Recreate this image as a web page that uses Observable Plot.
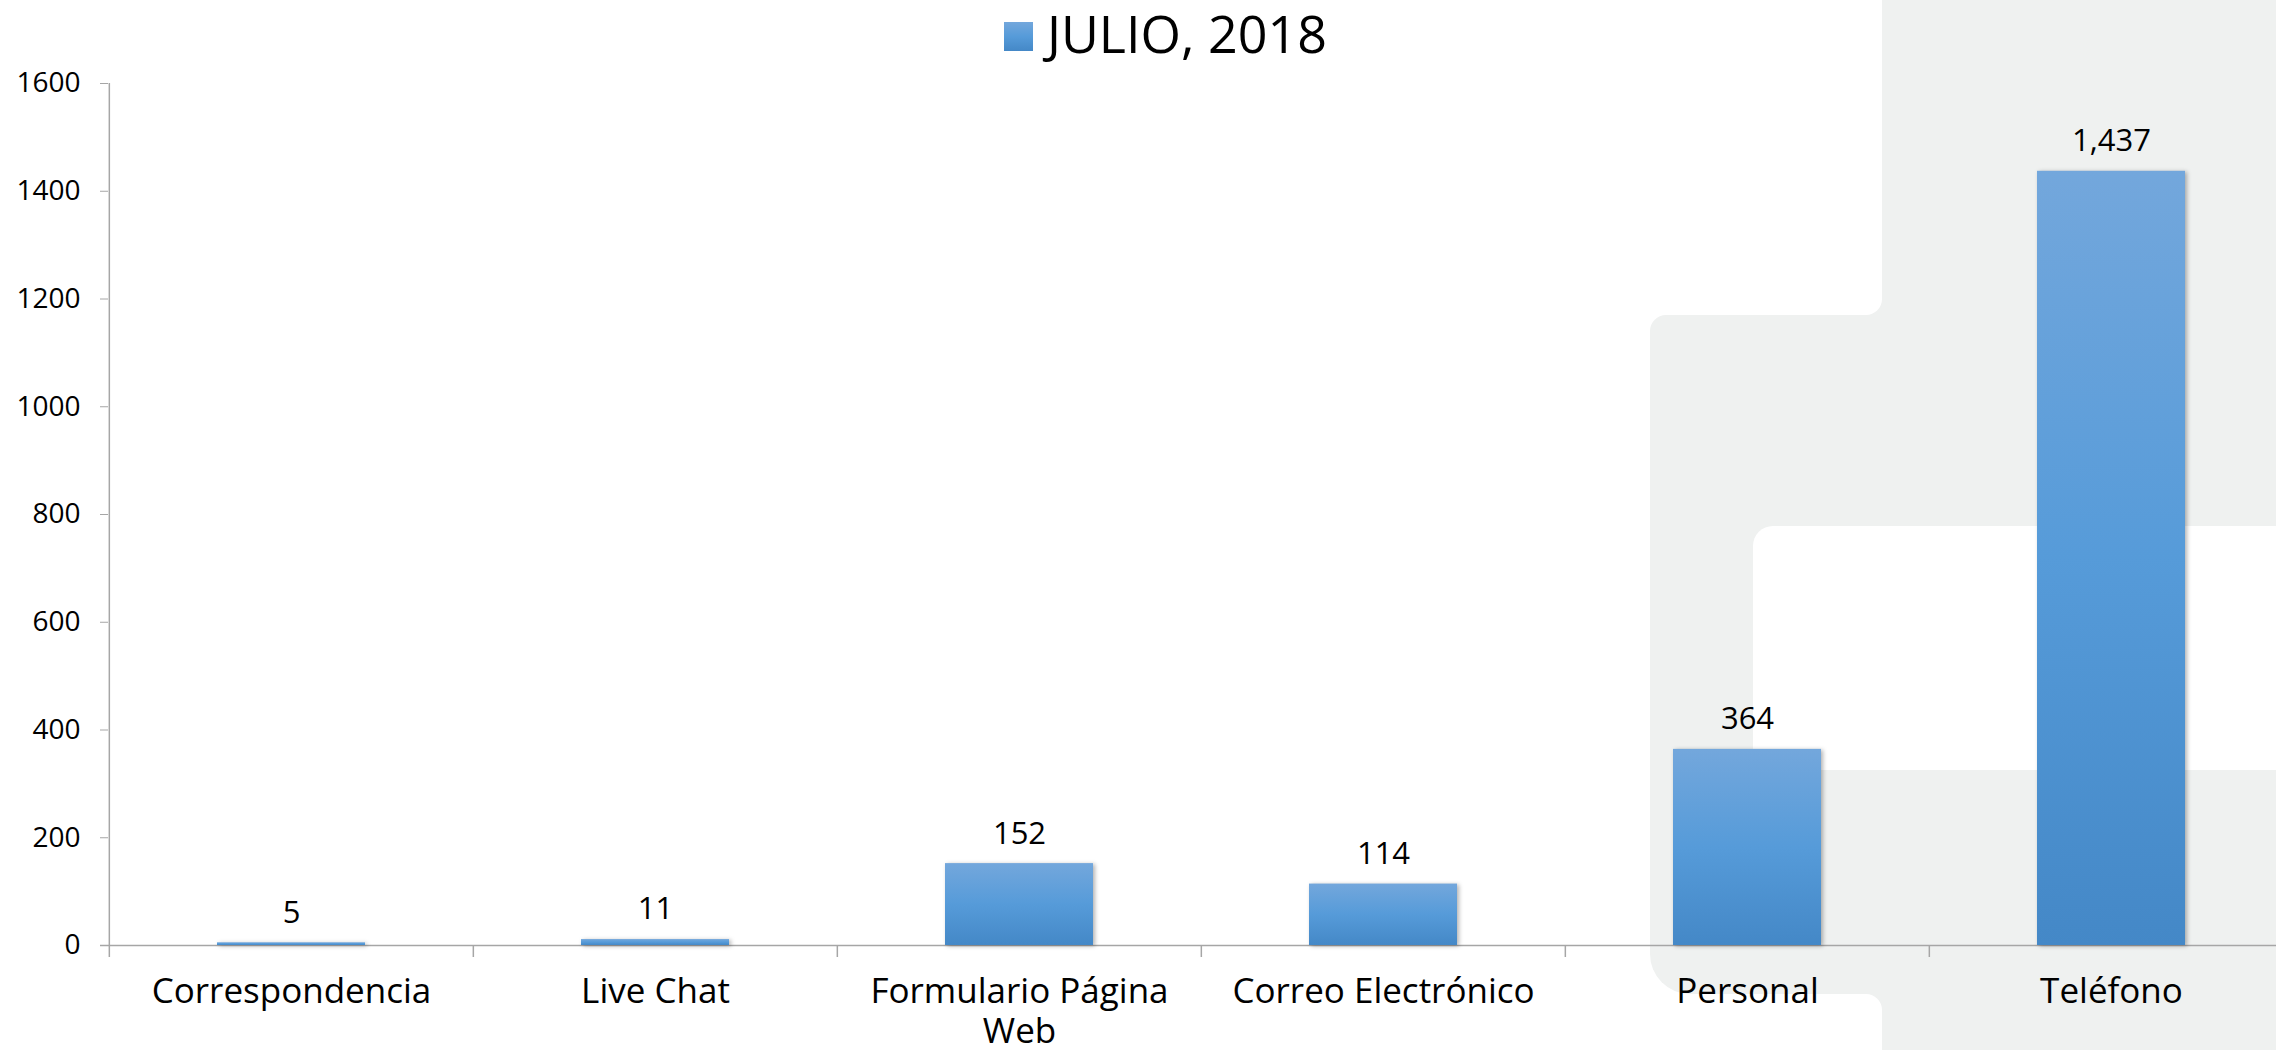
<!DOCTYPE html>
<html>
<head>
<meta charset="utf-8">
<script src="https://cdn.jsdelivr.net/npm/d3@7"></script>
<script src="https://cdn.jsdelivr.net/npm/@observablehq/plot@0.6"></script>
<style>
  html, body { margin: 0; padding: 0; background: #ffffff; overflow: hidden; }
  #wrap { position: relative; width: 2276px; height: 1050px; font-family: "Open Sans", sans-serif; }
  .bg { position: absolute; }
  .gray { background: #eff1f0; }
  .white { background: #ffffff; }
  #legend-swatch { position: absolute; left: 1004px; top: 22px; width: 29px; height: 29px;
    background: linear-gradient(#73a7dc, #569bd9 50%, #4488c7); }
  #legend-text { position: absolute; left: 1047px; top: 7px; font-size: 52px; line-height: 52px; color: #000; white-space: nowrap; }
  #chart { position: absolute; left: 0; top: 60px; }
</style>
</head>
<body>
<div id="wrap">
  <div class="bg gray" style="left:1882px;top:0;width:394px;height:1050px;"></div>
  <div class="bg gray" style="left:1650px;top:315px;width:626px;height:679px;border-radius:16px 0 0 40px;"></div>
  <div class="bg gray" style="left:1858px;top:290px;width:24px;height:25px;"></div>
  <div class="bg gray" style="left:1858px;top:994px;width:24px;height:24px;"></div>
  <div class="bg white" style="left:1600px;top:0;width:282px;height:315px;border-radius:0 0 16px 0;"></div>
  <div class="bg white" style="left:1640px;top:994px;width:242px;height:56px;border-radius:0 16px 0 0;"></div>
  <div class="bg white" style="left:1753px;top:526px;width:523px;height:244px;border-radius:20px 0 0 0;"></div>
  <div id="legend-swatch"></div>
  <div id="legend-text"></div>
  <div id="chart"></div>
</div>
<script>
const categories = ["Correspondencia", "Live Chat", "Formulario Página Web", "Correo Electrónico", "Personal", "Teléfono"];
const values = [5, 11, 152, 114, 364, 1437];
const yTicks = [0, 200, 400, 600, 800, 1000, 1200, 1400, 1600];
const seriesName = "JULIO, 2018";

document.getElementById("legend-text").textContent = seriesName;

const data = categories.map((c, i) => ({cat: c, value: values[i]}));
const xRange = [108, 2294];
const step = (xRange[1] - xRange[0]) / categories.length;
const axisColor = "#a6a6a6";

const defsMark = () => {
  const ns = "http://www.w3.org/2000/svg";
  const d = document.createElementNS(ns, "defs");
  d.innerHTML = '<linearGradient id="barGrad" x1="0" y1="0" x2="0" y2="1">' +
    '<stop offset="0" stop-color="#73a7dc"/><stop offset="0.5" stop-color="#569bd9"/>' +
    '<stop offset="1" stop-color="#4488c7"/></linearGradient>';
  return d;
};

const wrapLabel = d => d.length > 20 ? d.replace(/ (\S+)$/, "\n$1") : d;

const chart = Plot.plot({
  width: 2276,
  height: 990,
  marginTop: 23,
  marginBottom: 105,
  marginLeft: 108,
  marginRight: 0,
  style: {background: "transparent", fontFamily: "'Open Sans', sans-serif", color: "black"},
  x: {type: "band", domain: categories, range: xRange, paddingInner: 0.594, paddingOuter: 0.297},
  y: {domain: [0, 1600]},
  marks: [
    defsMark,
    Plot.ruleY([0], {stroke: axisColor, strokeWidth: 1.5, insetLeft: -8}),
    Plot.ruleX([categories[0]], {x: d => d, y1: 1600, y2: 0, dx: -step / 2, insetBottom: -12, stroke: axisColor, strokeWidth: 1.5}),
    Plot.ruleX(categories.slice(1), {x: d => d, y1: 0, y2: 0, dx: -step / 2, insetBottom: -12, stroke: axisColor, strokeWidth: 1.5}),
    Plot.barY(data, {x: "cat", y: "value", fill: "url(#barGrad)"}),
    Plot.text(data, {x: "cat", y: "value", text: d => d3.format(",")(d.value), dy: -30, fontSize: 31, fill: "black"}),
    Plot.axisY({ticks: yTicks, tickSize: 8, tickPadding: 20, fontSize: 28, stroke: axisColor, fill: "black", label: null, tickFormat: d => String(d)}),
    Plot.axisX({tickSize: 0, tickPadding: 29, fontSize: 35, lineHeight: 1.15, fill: "black", label: null, tickFormat: wrapLabel})
  ]
});

chart.querySelectorAll('g[aria-label="bar"] rect').forEach(r => {
  r.style.filter = "drop-shadow(2px 1px 2px rgba(0,0,0,0.3))";
});

document.getElementById("chart").appendChild(chart);
</script>
</body>
</html>
